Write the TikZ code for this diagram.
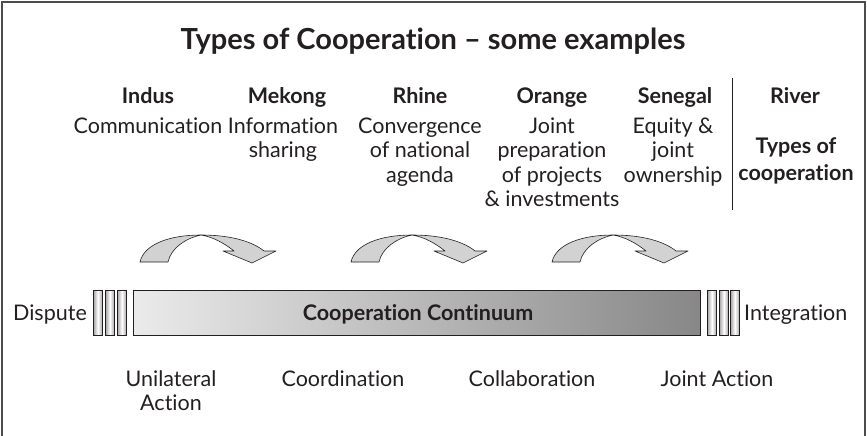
\documentclass[tikz,border=0pt]{standalone}
\usepackage{fontspec}
\setmainfont{Lato}[Ligatures=CommonOff]
\begin{document}
\definecolor{ink}{HTML}{231F20}
\definecolor{arrowgray}{HTML}{D2D2D2}
\begin{tikzpicture}[x=1pt,y=-1pt,
  every node/.style={inner sep=0pt, text=ink},
  ttl/.style={font=\fontsize{29}{33}\selectfont\bfseries, anchor=base},
  hdr/.style={font=\fontsize{21.5}{25}\selectfont\bfseries, anchor=base},
  dsc/.style={font=\fontsize{21.5}{25}\selectfont, anchor=base},
  arrowfill/.style={fill=arrowgray, draw=ink, line width=0.6pt, line join=round},
  bar/.style={draw=ink, line width=0.9pt, left color=black!8, right color=black!47},
  slat/.style={draw=ink, line width=0.8pt, left color=black!35, right color=black!35, middle color=white}]
\useasboundingbox (0,0) rectangle (867,436);
\clip (0,0) rectangle (867,436);
\draw[line width=1.2pt, draw=black!70] (2,2) rectangle (865,450);
% title
\node[ttl] (title) at (433,50) {Types of Cooperation -- some examples};
% headers
\node[hdr] (indus) at (148,103) {Indus};
\node[hdr] (mekong) at (287,103) {Mekong};
\node[hdr] (rhine) at (420,103) {Rhine};
\node[hdr] (orange) at (552,103) {Orange};
\node[hdr] (senegal) at (675,103) {Senegal};
\node[hdr] (river) at (795,103) {River};
% descriptions
\node[dsc] (d1) at (148,133) {Communication};
\node[dsc] (d2a) at (283,133) {Information};
\node[dsc] (d2b) at (283,157.5) {sharing};
\node[dsc] (d3a) at (420,133) {Convergence};
\node[dsc] (d3b) at (420,157.5) {of national};
\node[dsc] (d3c) at (420,182) {agenda};
\node[dsc] (d4a) at (552,133) {Joint};
\node[dsc] (d4b) at (552,157.5) {preparation};
\node[dsc] (d4c) at (552,182) {of projects};
\node[dsc] (d4d) at (552,206.5) {\& investments};
\node[dsc] (d5a) at (673,133) {Equity \&};
\node[dsc] (d5b) at (673,157.5) {joint};
\node[dsc] (d5c) at (673,182) {ownership};
\node[hdr] (t6a) at (796,153) {Types of};
\node[hdr] (t6b) at (796,180) {cooperation};
\coordinate (vtop) at (732,78);
\coordinate (vbot) at (732,210);
\draw[line width=1pt, draw=ink] (vtop) -- (vbot);
% curved arrows
\foreach \dx in {0,211,412} {
  \begin{scope}[xshift=\dx pt]
    \filldraw[arrowfill] (140,262) .. controls (144,244) and (170,235) .. (201,235)
       .. controls (186,238) and (171,248) .. (168,262) -- cycle;
    \filldraw[arrowfill] (201,235) .. controls (232,235) and (253,242) .. (264,251)
       -- (276,251) -- (252,263) -- (223,251) -- (234,251)
       .. controls (224,243) and (213,237) .. (201,235) -- cycle;
  \end{scope}
}
% bar
\node[bar, minimum width=567pt, minimum height=45pt, anchor=north west] (barbox) at (133,290) {};
\node[dsc, font=\fontsize{21.5}{25}\selectfont\bfseries] (bartext) at (418,320) {Cooperation Continuum};
% slats
\foreach \x/\n in {93/l1,105/l2,117/l3,707/r1,719/r2,730/r3} {
  \node[slat, minimum width=9pt, minimum height=45pt, anchor=north west] (\n) at (\x,290) {};
}
\node[dsc, anchor=base east] (dispute) at (87,320) {Dispute};
\node[dsc, anchor=base west] (integ) at (744,320) {Integration};
% bottom labels
\node[dsc] (b1a) at (171,386) {Unilateral};
\node[dsc] (b1b) at (171,410) {Action};
\node[dsc] (b2) at (343,386) {Coordination};
\node[dsc] (b3) at (532,386) {Collaboration};
\node[dsc] (b4) at (717,386) {Joint Action};
\end{tikzpicture}
\end{document}
